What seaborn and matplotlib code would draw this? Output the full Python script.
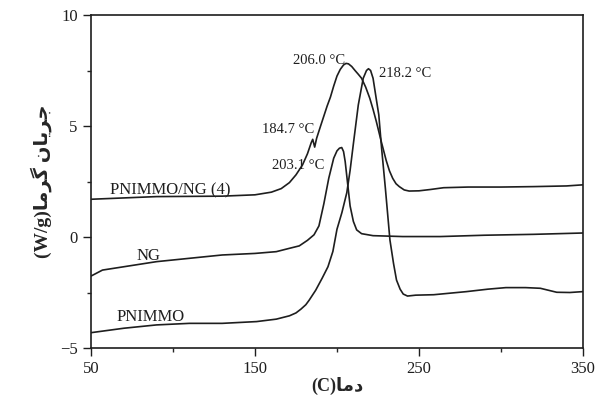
import matplotlib
matplotlib.use("Agg")
import matplotlib.pyplot as plt
import seaborn as sns
from matplotlib.ticker import MultipleLocator

# DSC curves (temperature in C, heat flow in W/g)
temp_mix = [50, 70, 90, 110, 130, 150, 160, 166, 171, 175, 179, 182, 184.3, 185.2, 186.4,
            187.6, 190, 192, 194, 196, 198, 200, 202, 204, 205.5, 207, 209, 211, 213, 215,
            217.5, 220, 222, 224, 227, 230, 232, 234, 236, 238, 241, 244, 250, 257, 265, 280,
            300, 320, 340, 350]
heat_mix = [1.70, 1.76, 1.82, 1.83, 1.84, 1.90, 2.02, 2.18, 2.45, 2.80, 3.25, 3.75, 4.25, 4.40, 4.05,
            4.45, 5.00, 5.45, 5.90, 6.30, 6.80, 7.25, 7.55, 7.75, 7.82, 7.80, 7.68, 7.50, 7.33, 7.15,
            6.75, 6.25, 5.75, 5.20, 4.30, 3.45, 2.98, 2.64, 2.40, 2.27, 2.12, 2.07, 2.08, 2.14, 2.22,
            2.25, 2.25, 2.27, 2.30, 2.35]

temp_ng = [50, 57, 70, 90, 110, 130, 150, 163, 171, 177, 182, 186, 189, 192, 195, 198, 200,
           201.5, 202.9, 204, 205, 206.5, 208, 210, 212, 215, 222, 240, 263, 290, 320, 350]
heat_ng = [-1.76, -1.49, -1.34, -1.11, -0.96, -0.81, -0.74, -0.66, -0.51, -0.40, -0.15, 0.10, 0.50,
           1.50, 2.65, 3.55, 3.88, 4.00, 4.03, 3.85, 3.40, 2.40, 1.40, 0.70, 0.32, 0.15, 0.06, 0.02,
           0.02, 0.08, 0.12, 0.18]

temp_pn = [50, 70, 90, 110, 130, 151, 163, 171, 175, 178, 181, 183, 187, 191, 194.5, 197.5, 200,
           203, 206, 208, 210, 213, 216, 218, 219.2, 220.5, 222, 224, 225.5, 227.2, 229.5, 232.3,
           234.5, 236.3, 238.5, 240.4, 243, 248, 259, 279, 292, 303, 315, 324, 334, 342, 350]
heat_pn = [-4.31, -4.11, -3.96, -3.89, -3.89, -3.81, -3.70, -3.55, -3.42, -3.25, -3.05, -2.85,
           -2.40, -1.85, -1.34, -0.65, 0.35, 1.10, 2.00, 3.00, 4.20, 5.95, 7.15, 7.50, 7.58, 7.50,
           7.15, 6.20, 5.50, 4.00, 2.20, -0.14, -1.20, -1.94, -2.35, -2.57, -2.66, -2.62, -2.60,
           -2.46, -2.35, -2.28, -2.28, -2.31, -2.49, -2.50, -2.46]

# peak annotations and curve names
peak_text = ["206.0 °C", "218.2 °C", "184.7 °C", "203.1 °C"]
peak_x = [173.2, 225.6, 154.0, 160.1]
peak_y = [7.97, 7.37, 4.82, 3.24]
curve_names = ["PNIMMO/NG (4)", "NG", "PNIMMO"]
name_x = [61.6, 84.9, 86.6]
name_y = [2.10, -0.86, -3.62]
name_ha = ["left", "center", "center"]

# Persian labels, written in visual order with presentation forms (no shaping in matplotlib)
xlabel = "(C)\ufe8e\ufee3\ufea9"  # دما(C)
ylabel = "(W/g)\ufe8e\ufee3\ufeae\ufb94 \ufee5\ufe8e\ufbfe\ufeae\ufe9f"  # جریان گرما(W/g)

sns.set_style("ticks")
plt.rcParams["font.family"] = ["Liberation Serif", "DejaVu Sans"]

fig = plt.figure(figsize=(6.01, 4.0), dpi=100)
ax = fig.add_axes([0.1514, 0.13, 0.8186, 0.8325])

line_color = "#1e1e1e"
for xs, ys in [(temp_mix, heat_mix), (temp_ng, heat_ng), (temp_pn, heat_pn)]:
    sns.lineplot(x=xs, y=ys, ax=ax, sort=False, estimator=None, color=line_color, lw=1.2)

for t, x, y in zip(peak_text, peak_x, peak_y):
    ax.text(x, y, t, ha="left", va="center", fontsize=10.5, color="#1e1e1e")
for t, x, y, ha in zip(curve_names, name_x, name_y, name_ha):
    ax.text(x, y, t, ha=ha, va="center", fontsize=12, color="#1e1e1e")

ax.set_xlim(50, 350)
ax.set_ylim(-5, 10)
ax.set_xticks([50, 150, 250, 350])
ax.set_yticks([-5, 0, 5, 10])
ax.xaxis.set_minor_locator(MultipleLocator(50))
ax.yaxis.set_minor_locator(MultipleLocator(2.5))
ax.tick_params(which="major", direction="out", length=6, width=1, labelsize=12, colors="#1e1e1e")
ax.tick_params(which="minor", direction="out", length=3, width=1)
ax.tick_params(top=False, right=False, which="both")
for s in ax.spines.values():
    s.set_visible(True)
    s.set_linewidth(1.2)
    s.set_color("#1e1e1e")

ax.set_xlabel(xlabel, fontsize=13, fontweight="bold", labelpad=0)
ax.set_ylabel(ylabel, fontsize=14, fontweight="bold", labelpad=6)

fig.savefig("out.png", dpi=100)
